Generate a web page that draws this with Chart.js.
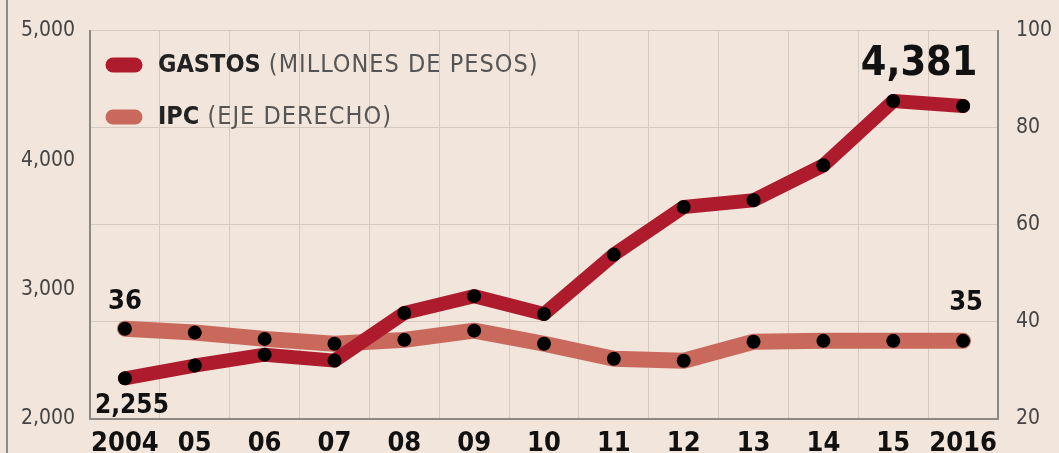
<!DOCTYPE html>
<html>
<head>
<meta charset="utf-8">
<script src="https://cdn.jsdelivr.net/npm/chart.js@4"></script>
<style>
  html, body { margin: 0; padding: 0; background: #f2e5db; }
  #wrap { position: relative; width: 1059px; height: 453px; overflow: hidden; }
  #wrap::before { content: ''; position: absolute; left: 6px; top: 0; bottom: 0; width: 2px; background: #8e8984; }
  canvas { display: block; }
</style>
</head>
<body>
<div id="wrap"><canvas id="chart" width="1059" height="453"></canvas></div>
<script>
// datos
const years = ['2004', '05', '06', '07', '08', '09', '10', '11', '12', '13', '14', '15', '2016'];
const gastos = [2314, 2413, 2497, 2451, 2819, 2949, 2811, 3270, 3637, 3690, 3959, 4456, 4418];
const ipc = [38.6, 37.8, 36.5, 35.5, 36.3, 38.2, 35.5, 32.4, 32.0, 35.9, 36.1, 36.1, 36.1];
const leftTicks = [2000, 3000, 4000, 5000];
const rightTicks = [20, 40, 60, 80, 100];
const legendItems = [
    { bold: 'GASTOS', light: ' (MILLONES DE PESOS)', color: '#ad1b2c' },
    { bold: 'IPC', light: ' (EJE DERECHO)', color: '#c8695c' }
];
// etiquetas de los extremos: [dataset, indice, texto]
const callouts = [
    [1, 0, '36'],
    [0, 0, '2,255'],
    [1, 12, '35'],
    [0, 12, '4,381']
];

const FONT = "'DejaVu Sans Condensed', 'DejaVu Sans', sans-serif";
const GRID = '#d5cac0';
const AXIS = '#8e8984';

// leyenda y etiquetas dibujadas a mano
const extras = {
    id: 'extras',
    afterDatasetsDraw(chart) {
        const ctx = chart.ctx;
        ctx.save();
        // leyenda
        legendItems.forEach((item, i) => {
            const y = 65 + i * 52;
            ctx.strokeStyle = item.color;
            ctx.lineWidth = 15;
            ctx.lineCap = 'round';
            ctx.beginPath();
            ctx.moveTo(113, y);
            ctx.lineTo(135, y);
            ctx.stroke();
            ctx.textBaseline = 'middle';
            ctx.font = 'bold 25px ' + FONT;
            ctx.fillStyle = '#222';
            ctx.fillText(item.bold, 158, y);
            const w = ctx.measureText(item.bold).width;
            ctx.font = '25px ' + FONT;
            ctx.fillStyle = '#555';
            ctx.letterSpacing = '1px';
            ctx.fillText(item.light, 158 + w, y);
            ctx.letterSpacing = '0px';
        });
        // etiquetas
        const offsets = [[0, -27, 27], [7, 28, 26], [3, -38, 27], [-44, -42, 41]];
        callouts.forEach((c, i) => {
            const pt = chart.getDatasetMeta(c[0]).data[c[1]];
            const o = offsets[i];
            ctx.font = 'bold ' + o[2] + 'px ' + FONT;
            ctx.fillStyle = '#111';
            ctx.textAlign = 'center';
            ctx.textBaseline = 'middle';
            ctx.fillText(c[2], pt.x + o[0], pt.y + o[1]);
        });
        ctx.restore();
    }
};

new Chart(document.getElementById('chart'), {
    type: 'line',
    data: {
        labels: years,
        datasets: [{
            label: 'GASTOS',
            data: gastos,
            yAxisID: 'y',
            borderColor: '#ad1b2c',
            borderWidth: 14,
            borderCapStyle: 'round',
            borderJoinStyle: 'round',
            pointRadius: 7,
            pointBorderWidth: 0,
            pointBackgroundColor: '#000',
            tension: 0
        }, {
            label: 'IPC',
            data: ipc,
            yAxisID: 'y1',
            borderColor: '#c8695c',
            borderWidth: 16,
            borderCapStyle: 'round',
            borderJoinStyle: 'round',
            pointRadius: 7,
            pointBorderWidth: 0,
            pointBackgroundColor: '#000',
            tension: 0
        }]
    },
    options: {
        responsive: false,
        animation: false,
        devicePixelRatio: 1,
        layout: { padding: { top: 27 } },
        plugins: {
            legend: { display: false },
            tooltip: { enabled: false }
        },
        scales: {
            x: {
                offset: true,
                grid: { offset: true, color: GRID, drawTicks: false },
                border: { color: AXIS, width: 2 },
                ticks: {
                    autoSkip: false,
                    maxRotation: 0,
                    padding: 9,
                    color: '#111',
                    font: { family: FONT, size: 27, weight: 'bold' }
                },
                afterFit: s => { s.height = 34; }
            },
            y: {
                position: 'left',
                min: 2000,
                max: 5000,
                afterBuildTicks: s => { s.ticks = leftTicks.map(v => ({ value: v })); },
                ticks: {
                    padding: 15,
                    color: '#444',
                    font: { family: FONT, size: 21 },
                    callback: v => v.toLocaleString('en-US')
                },
                grid: { display: false, drawTicks: false },
                border: { color: AXIS, width: 2 },
                afterFit: s => { s.width = 90; }
            },
            y1: {
                position: 'right',
                min: 20,
                max: 100,
                afterBuildTicks: s => { s.ticks = rightTicks.map(v => ({ value: v })); },
                ticks: {
                    padding: 18,
                    color: '#444',
                    font: { family: FONT, size: 21 }
                },
                grid: { color: GRID, drawTicks: false },
                border: { color: AXIS, width: 2 },
                afterFit: s => { s.width = 61; }
            }
        }
    },
    plugins: [extras]
});
</script>
</body>
</html>
